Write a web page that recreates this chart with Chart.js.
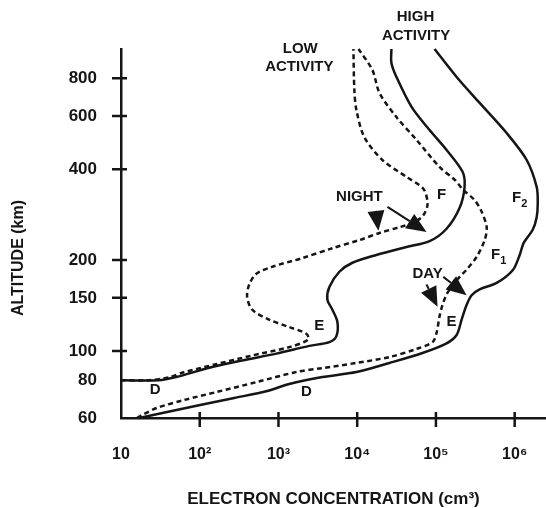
<!DOCTYPE html>
<html>
<head>
<meta charset="utf-8">
<script src="https://cdn.jsdelivr.net/npm/chart.js@4.4.1/dist/chart.umd.min.js"></script>
<style>
  html, body { margin: 0; padding: 0; background: #fff; }
  canvas { display: block; }
</style>
</head>
<body>
<canvas id="c" width="546" height="508"></canvas>
<script>
// Electron concentration profiles of the ionosphere (cm^-3 against km)

// Night, low solar activity
const nightLowDensity  = [10, 22.7, 42, 63, 166, 438, 1370, 2390, 2260, 1370, 760, 464, 400, 425, 520, 830, 2000, 4840, 10670, 19200, 34400, 53400, 69500, 78200, 69500, 42300, 20900, 12300, 9770, 9200, 8950];
const nightLowAltitude = [80, 80, 82, 85, 90.6, 96.3, 103, 109, 114, 120, 127, 137, 151, 166, 180, 190, 203, 219, 233, 246, 257, 267, 282, 307, 344, 377, 429, 511, 628, 732, 1000];

// Night, high solar activity
const nightHighDensity  = [10, 30, 50, 132, 346, 940, 2470, 4430, 5440, 5600, 4840, 4180, 4430, 5940, 8690, 17500, 42300, 83000, 136500, 200000, 231000, 218000, 136500, 83000, 49000, 31500, 27200, 27200];
const nightHighAltitude = [80, 80, 82, 88, 93, 98, 104, 107, 112, 125, 137, 148, 163, 183, 196, 208, 221, 231, 254, 298, 349, 392, 463, 539, 643, 808, 899, 1000];

// Day, low solar activity
const dayLowDensity  = [16, 18.5, 28.7, 63, 166, 537, 1690, 3610, 9770, 25700, 56700, 90600, 102000, 111000, 121000, 140500, 200000, 245000, 329000, 416000, 441000, 381000, 310000, 224000, 172500, 111000, 56700, 31500, 19200, 15600, 10400];
const dayLowAltitude = [60, 61.4, 64.8, 68.8, 73.2, 79, 85.2, 87.8, 91.3, 95.5, 101.6, 107, 115, 130, 142, 156, 176, 186, 205, 233, 257, 289, 316, 341, 369, 407, 500, 595, 715, 852, 1000];

// Day, high solar activity
const dayHighDensity  = [17, 38.5, 101, 274, 720, 1370, 3610, 9770, 25700, 67500, 136500, 183000, 212000, 245000, 284000, 359000, 591000, 944000, 1158000, 1302000, 1696000, 1906000, 1963000, 1906000, 1422000, 791000, 359000, 183000, 96000];
const dayHighAltitude = [60, 62.8, 66.3, 69.9, 73.7, 77.8, 82, 85.2, 91.3, 98.5, 106, 113, 127, 142, 153, 160, 168, 185, 208, 228, 252, 278, 309, 349, 429, 527, 663, 808, 1000];

// Axis ticks
const altitudeTicks = [60, 80, 100, 150, 200, 400, 600, 800];
const altitudeMarks = [100, 150, 200, 400, 600, 800];
const densityTicks = [10, 100, 1e3, 1e4, 1e5, 1e6];
const densityTickLabels = ['10', '10\u00B2', '10\u00B3', '10\u2074', '10\u2075', '10\u2076'];
const densityMarks = [100, 1e3, 1e4, 1e5, 1e6];

const INK = '#151515';
const FONT = '"Liberation Sans", Arial, Helvetica, sans-serif';

function pairs(xs, ys) { return xs.map((v, i) => ({ x: v, y: ys[i] })); }

// Text placed at (density, altitude)
const labels = [
  { text: 'LOW', at: [1890, 1000] },
  { text: 'ACTIVITY', at: [1840, 872] },
  { text: 'HIGH', at: [55000, 1276] },
  { text: 'ACTIVITY', at: [55900, 1104] },
  { text: 'NIGHT', at: [10670, 324] },
  { text: 'F', at: [117900, 329] },
  { text: 'F', sub: '2', at: [1.061e6, 321] },
  { text: 'F', sub: '1', at: [573300, 208] },
  { text: 'DAY', at: [78200, 180] },
  { text: 'E', at: [158000, 124.8] },
  { text: 'E', at: [3305, 121] },
  { text: 'D', at: [27.1, 74.3] },
  { text: 'D', at: [2258, 73.2] }
];

// Pointer arrows: from (density, altitude) to (density, altitude)
const arrows = [
  { from: [17550, 282], to: [18600, 250] },
  { from: [24230, 300], to: [75950, 248] },
  { from: [75950, 166], to: [104800, 140] },
  { from: [124000, 176], to: [245000, 153] }
];

const overlay = {
  id: 'overlay',
  afterDraw(chart) {
    const { ctx, chartArea: a } = chart;
    const xs = chart.scales.x, ys = chart.scales.y;
    const px = v => xs.getPixelForValue(v);
    const py = v => ys.getPixelForValue(v);
    ctx.save();
    ctx.strokeStyle = INK;
    ctx.fillStyle = INK;
    ctx.lineWidth = 2.5;
    ctx.lineCap = 'butt';

    // crossing tick marks on both axes
    ctx.beginPath();
    altitudeMarks.forEach(v => { const y = py(v); ctx.moveTo(a.left - 9, y); ctx.lineTo(a.left + 6, y); });
    densityMarks.forEach(v => { const x = px(v); ctx.moveTo(x, a.bottom - 6); ctx.lineTo(x, a.bottom + 9); });
    ctx.stroke();

    // arrows
    arrows.forEach(ar => {
      const x0 = px(ar.from[0]), y0 = py(ar.from[1]);
      const x1 = px(ar.to[0]), y1 = py(ar.to[1]);
      const dx = x1 - x0, dy = y1 - y0, len = Math.hypot(dx, dy);
      const ux = dx / len, uy = dy / len;
      const head = 20, half = 8.5;
      const bx = x1 - ux * head, by = y1 - uy * head;
      ctx.lineWidth = 2;
      ctx.beginPath();
      ctx.moveTo(x0, y0);
      ctx.lineTo(bx, by);
      ctx.stroke();
      ctx.beginPath();
      ctx.moveTo(x1, y1);
      ctx.lineTo(bx - uy * half, by + ux * half);
      ctx.lineTo(bx + uy * half, by - ux * half);
      ctx.closePath();
      ctx.fill();
    });

    // labels
    ctx.textAlign = 'center';
    ctx.textBaseline = 'middle';
    labels.forEach(l => {
      const x = px(l.at[0]), y = py(l.at[1]);
      ctx.font = 'bold 15px ' + FONT;
      if (l.sub) {
        const w = ctx.measureText(l.text).width;
        ctx.textAlign = 'center';
        ctx.fillText(l.text, x, y);
        ctx.font = 'bold 11px ' + FONT;
        ctx.textAlign = 'left';
        ctx.fillText(l.sub, x + w / 2, y + 6);
        ctx.textAlign = 'center';
      } else {
        ctx.fillText(l.text, x, y);
      }
    });

    // vertical axis title
    ctx.font = 'bold 16px ' + FONT;
    ctx.translate(19, 258);
    ctx.rotate(-Math.PI / 2);
    ctx.fillText('ALTITUDE (km)', 0, 0);
    ctx.restore();
  }
};

const common = { borderColor: INK, borderWidth: 2.5, pointRadius: 0, tension: 0.3, fill: false, clip: false };

new Chart(document.getElementById('c'), {
  type: 'line',
  data: {
    datasets: [
      Object.assign({ label: 'Night, low activity', data: pairs(nightLowDensity, nightLowAltitude), borderDash: [5, 3.5] }, common),
      Object.assign({ label: 'Night, high activity', data: pairs(nightHighDensity, nightHighAltitude) }, common),
      Object.assign({ label: 'Day, low activity', data: pairs(dayLowDensity, dayLowAltitude), borderDash: [5, 3.5] }, common),
      Object.assign({ label: 'Day, high activity', data: pairs(dayHighDensity, dayHighAltitude) }, common)
    ]
  },
  options: {
    responsive: false,
    animation: false,
    devicePixelRatio: 1,
    layout: { padding: { top: 49, right: 0, left: 0, bottom: 0 } },
    plugins: { legend: { display: false }, tooltip: { enabled: false } },
    scales: {
      x: {
        type: 'logarithmic',
        min: 10,
        max: 2.5e6,
        afterFit: s => { s.height = 90; s.paddingLeft = 0; s.paddingRight = 0; },
        afterBuildTicks: s => { s.ticks = densityTicks.map(v => ({ value: v })); },
        grid: { drawOnChartArea: false, drawTicks: false },
        border: { display: true, color: INK, width: 2.5 },
        ticks: {
          autoSkip: false,
          maxRotation: 0,
          padding: 27,
          color: INK,
          font: { family: FONT, size: 16, weight: 'bold' },
          callback: (v, i) => densityTickLabels[i]
        },
        title: {
          display: true,
          text: 'ELECTRON CONCENTRATION (cm\u00B3)',
          color: INK,
          font: { family: FONT, size: 17, weight: 'bold', lineHeight: 1 },
          padding: { top: 0, bottom: 0 }
        }
      },
      y: {
        type: 'logarithmic',
        min: 60,
        max: 1000,
        afterFit: s => { s.width = 121; s.paddingTop = 0; s.paddingBottom = 0; },
        afterBuildTicks: s => { s.ticks = altitudeTicks.map(v => ({ value: v })); },
        grid: { drawOnChartArea: false, drawTicks: false },
        border: { display: true, color: INK, width: 2.5 },
        ticks: {
          autoSkip: false,
          padding: 24,
          color: INK,
          font: { family: FONT, size: 17, weight: 'bold' },
          callback: v => String(v)
        }
      }
    }
  },
  plugins: [overlay]
});
</script>
</body>
</html>
